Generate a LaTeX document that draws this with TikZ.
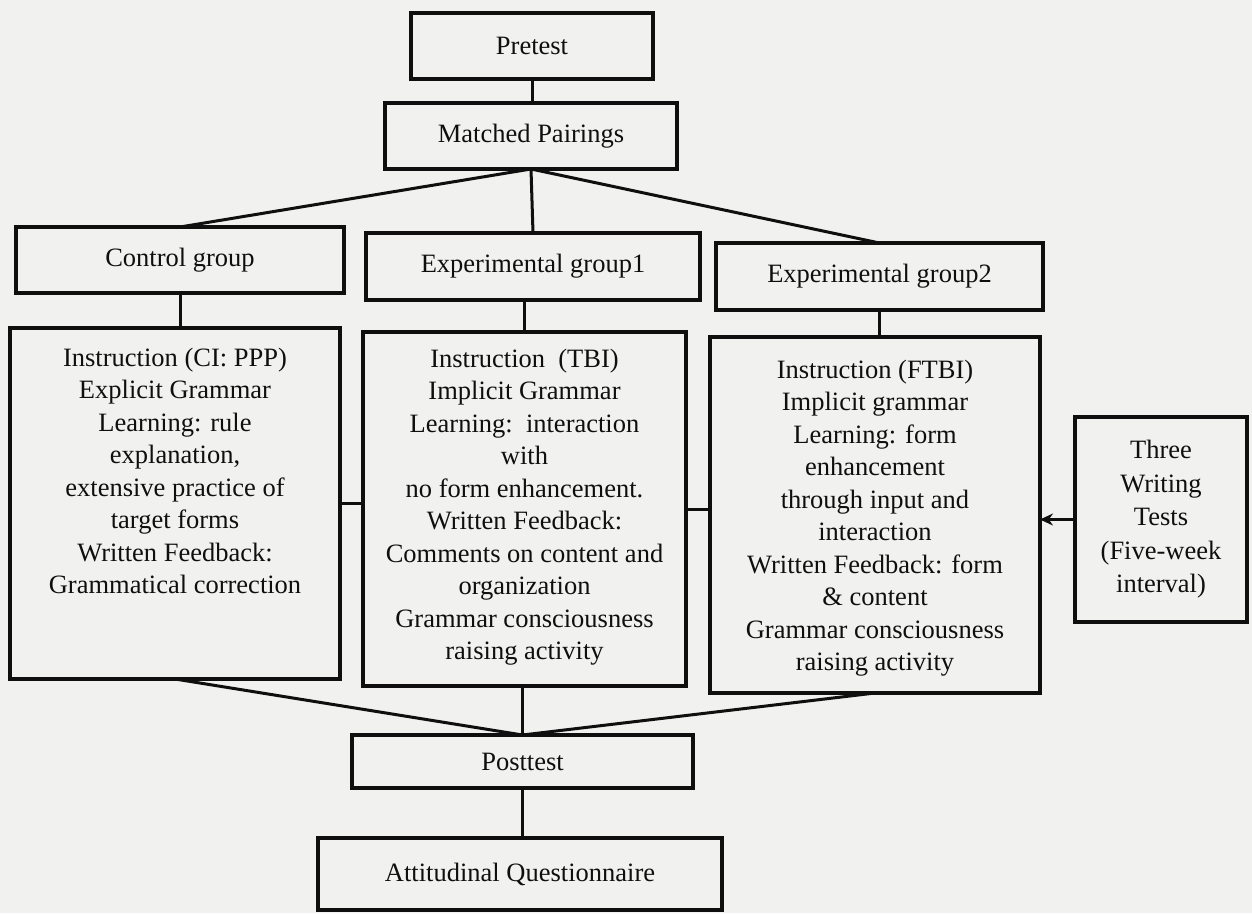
\documentclass[tikz,border=0pt]{standalone}
\usepackage{fontspec}
\setmainfont{Liberation Serif}
\usetikzlibrary{arrows.meta,calc}
\definecolor{paper}{RGB}{241,241,239}
\definecolor{ink}{RGB}{15,15,15}
\begin{document}
\begin{tikzpicture}[x=1pt,y=-1pt,
  box/.style={draw=ink,line width=3.2pt,fill=paper,inner sep=0pt,outer sep=0pt},
  txt/.style={align=center,inner sep=0pt,text=ink,font=\fontsize{26.5}{32.5}\selectfont},
  link/.style={draw=ink,line width=3pt},
  arr/.style={link,-{Stealth[length=13pt,width=12pt]}}]
\useasboundingbox (0,0) rectangle (1252,913);
\fill[paper] (0,0) rectangle (1252,913);

% top row
\node[box,minimum width=242pt,minimum height=66pt] (pre) at (532,46) {};
\node[txt] at (pre) {Pretest};
\node[box,minimum width=292pt,minimum height=66pt] (match) at (531,136) {};
\node[txt] at (match) {Matched Pairings};

% the three groups
\node[box,minimum width=328pt,minimum height=66pt] (cg) at (180,260) {};
\node[txt] at (cg) {Control group};
\node[box,minimum width=334pt,minimum height=67pt] (eg1) at (533,266.5) {};
\node[txt] at (eg1) {Experimental group1};
\node[box,minimum width=327pt,minimum height=67pt] (eg2) at (879.5,276.5) {};
\node[txt] at (eg2) {Experimental group2};

% treatment boxes
\node[box,minimum width=330pt,minimum height=351pt] (ci) at (175,503.5) {};
\node[txt] (citext) at (175,471) {Instruction (CI: PPP)\\Explicit Grammar\\Learning: rule\\explanation,\\extensive practice of\\target forms\\Written Feedback:\\Grammatical correction};
\node[box,minimum width=323pt,minimum height=354pt] (e1i) at (524.5,509) {};
\node[txt] (e1text) at (524.5,507) {Instruction~~(TBI)\\Implicit Grammar\\Learning:~~interaction\\with\\no form enhancement.\\Written Feedback:\\Comments on content and\\organization\\Grammar consciousness\\raising activity};
\node[box,minimum width=330pt,minimum height=356pt] (e2i) at (875,515) {};
\node[txt] (e2text) at (875,518) {Instruction (FTBI)\\Implicit grammar\\Learning: form\\enhancement\\through input and\\interaction\\Written Feedback: form\\\& content\\Grammar consciousness\\raising activity};
\node[box,minimum width=172pt,minimum height=205pt] (three) at (1161,519.5) {};
\node[txt,font=\fontsize{26.5}{33.5}\selectfont] (threetext) at (three) {Three\\Writing\\Tests\\(Five-week\\interval)};

% final measures
\node[box,minimum width=341pt,minimum height=53pt] (post) at (522.5,761.5) {};
\node[txt] at (post) {Posttest};
\node[box,minimum width=404pt,minimum height=72pt] (att) at (520,874) {};
\node[txt] at (att) {Attitudinal Questionnaire};

% connectors
\draw[link] (pre.south) -- (pre.south |- match.north);
\draw[link] (match.south) -- (cg.north);
\draw[link] (match.south) -- (eg1.north);
\draw[link] (match.south) -- (eg2.north);
\draw[link] (cg.south) -- (cg.south |- ci.north);
\draw[link] (e1i.north) -- (e1i.north |- eg1.south);
\draw[link] (eg2.south) -- (eg2.south |- e2i.north);
\draw[link] (ci.east) -- (ci.east -| e1i.west);
\draw[link] (e1i.east) -- (e1i.east -| e2i.west);
\draw[arr] (three.west) -- (three.west -| e2i.east);
\draw[link] (ci.south) -- (post.north);
\draw[link] (post.north) -- (post.north |- e1i.south);
\draw[link] (e2i.south) -- (post.north);
\draw[link] (post.south) -- (post.south |- att.north);
\end{tikzpicture}
\end{document}
